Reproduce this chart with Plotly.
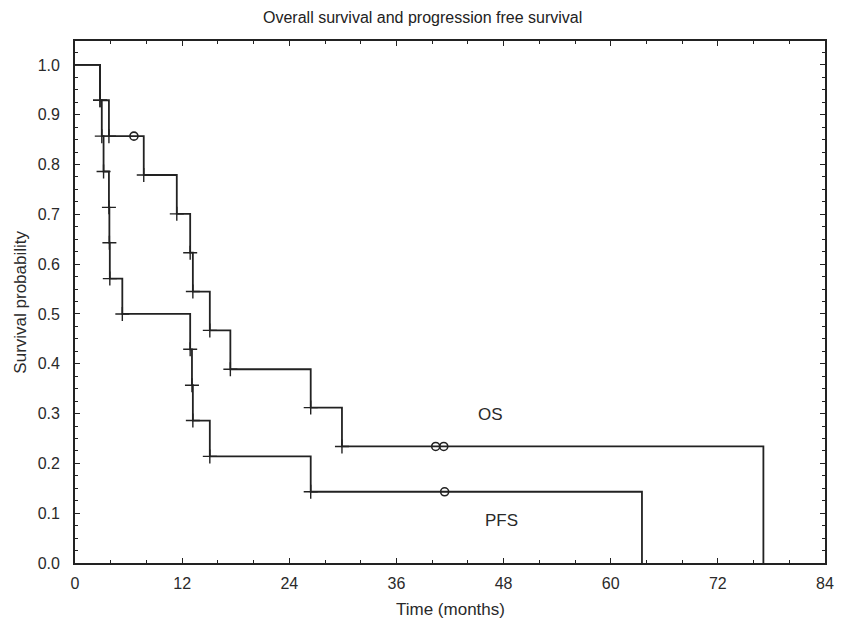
import plotly.graph_objects as go

# Overall survival (OS) step curve: time (months) and survival after each event
os_time = [0, 2.8, 3.8, 7.7, 11.4, 12.9, 13.2, 15.1, 17.4, 26.4, 29.9, 77.1]
os_surv = [1.0, 0.929, 0.857, 0.779, 0.701, 0.623, 0.545, 0.467, 0.389, 0.312, 0.234, 0.0]
os_cens_time = [6.6, 40.4, 41.3]
os_cens_surv = [0.857, 0.234, 0.234]

# Progression free survival (PFS)
pfs_time = [0, 2.8, 3.0, 3.2, 3.8, 3.85, 3.9, 5.3, 12.9, 13.1, 13.2, 15.1, 26.4, 63.5]
pfs_surv = [1.0, 0.929, 0.857, 0.786, 0.714, 0.643, 0.571, 0.5, 0.429, 0.357, 0.286, 0.214, 0.143, 0.0]
pfs_cens_time = [41.4]
pfs_cens_surv = [0.143]

x_ticks = [0, 12, 24, 36, 48, 60, 72, 84]
y_ticks = [0.0, 0.1, 0.2, 0.3, 0.4, 0.5, 0.6, 0.7, 0.8, 0.9, 1.0]

LINE = "#222222"
FONT = "Liberation Sans, Arial, sans-serif"

fig = go.Figure()
for t, s in [(os_time, os_surv), (pfs_time, pfs_surv)]:
    fig.add_trace(go.Scatter(x=t, y=s, mode="lines", line=dict(shape="hv", color=LINE, width=1.8),
                             hoverinfo="skip", showlegend=False))
    # event tick marks ("+") at each step (exclude start and final drop to zero)
    fig.add_trace(go.Scatter(x=t[1:-1], y=s[1:-1], mode="markers",
                             marker=dict(symbol="cross-thin", size=10, line=dict(color=LINE, width=1.4)),
                             hoverinfo="skip", showlegend=False))
for t, s in [(os_cens_time, os_cens_surv), (pfs_cens_time, pfs_cens_surv)]:
    fig.add_trace(go.Scatter(x=t, y=s, mode="markers",
                             marker=dict(symbol="circle-open", size=8, color=LINE, line=dict(color=LINE, width=1.6)),
                             hoverinfo="skip", showlegend=False))

axis_common = dict(showline=True, linecolor=LINE, linewidth=1.8, mirror="ticks", ticks="inside",
                   tickcolor=LINE, tickwidth=1.3, ticklen=5, showgrid=False, zeroline=False,
                   tickfont=dict(family=FONT, size=16, color="#2a2a2a"))

fig.update_xaxes(range=[0, 84], tickvals=x_ticks, ticklabelstandoff=5,
                 minor=dict(dtick=4, ticks="inside", ticklen=3, tickcolor=LINE, tickwidth=1.1),
                 **axis_common)
fig.update_yaxes(range=[0, 1.048], tickvals=y_ticks, tickformat=".1f", ticklabelstandoff=10,
                 minor=dict(dtick=0.025, ticks="inside", ticklen=3, tickcolor=LINE, tickwidth=1.1),
                 **axis_common)

fig.update_layout(
    width=843, height=621,
    margin=dict(l=75, r=9, t=41, b=58),
    paper_bgcolor="white", plot_bgcolor="white",
    font=dict(family=FONT, color="#222222"),
    annotations=[
        dict(text="Overall survival and progression free survival", xref="paper", yref="paper",
             x=(427 - 75) / 759, y=(563 - 17) / 522, xanchor="center", yanchor="middle",
             showarrow=False, font=dict(family=FONT, size=16, color="#222222")),
        dict(text="Time (months)", xref="paper", yref="paper", x=0.5, y=(563 - 609) / 522,
             xanchor="center", yanchor="middle", showarrow=False,
             font=dict(family=FONT, size=17, color="#2a2a2a")),
        dict(text="Survival probability", xref="paper", yref="paper", x=(19 - 75) / 759, y=0.5,
             xanchor="center", yanchor="middle", textangle=-90, showarrow=False,
             font=dict(family=FONT, size=17, color="#2a2a2a")),
        dict(text="OS", x=46.5, y=0.298, xref="x", yref="y", showarrow=False,
             font=dict(family=FONT, size=17, color="#2a2a2a")),
        dict(text="PFS", x=47.8, y=0.086, xref="x", yref="y", showarrow=False,
             font=dict(family=FONT, size=17, color="#2a2a2a")),
    ],
)

fig.write_html("out.html")
